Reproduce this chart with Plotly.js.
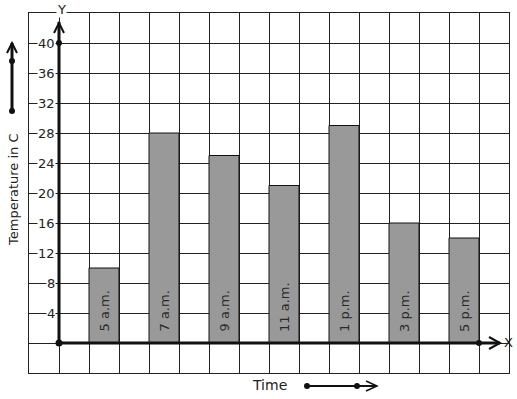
<!DOCTYPE html>
<html><head><meta charset="utf-8">
<script src="https://cdn.plot.ly/plotly-3.0.1.min.js"></script>
<style>html,body{margin:0;padding:0;background:#fff}#c{width:517px;height:399px}</style>
</head><body><div id="c"></div>
<script>
const categories = ["5 a.m.","7 a.m.","9 a.m.","11 a.m.","1 p.m.","3 p.m.","5 p.m."];
const positions = [1.5,3.5,5.5,7.5,9.5,11.5,13.5];
const temperatures = [10,28,25,21,29,16,14];
const yTickValues = [4,8,12,16,20,24,28,32,36,40];
const yTickLabels = ["4","8","12","16","20","24","28","32","36","40"];

const W=517,H=399,L=29,R=8,T=13,B=26;
const pw=W-L-R, ph=H-T-B;
const px=x=>(x-L)/pw, py=y=>(H-B-y)/ph;
const FONT="DejaVu Sans";
const ink="#111";

const shapes=[];
function pline(x0,y0,x1,y1,w){shapes.push({type:'line',xref:'paper',yref:'paper',x0:px(x0),y0:py(y0),x1:px(x1),y1:py(y1),line:{color:ink,width:w}});}
function ppath(pts,w){let d='M'+pts.map(p=>px(p[0])+','+py(p[1])).join(' L');shapes.push({type:'path',xref:'paper',yref:'paper',path:d,line:{color:ink,width:w}});}
function dot(xr,yr,x,y,r){shapes.push({type:'circle',xref:xr,yref:yr,xsizemode:'pixel',ysizemode:'pixel',xanchor:x,yanchor:y,x0:-r,x1:r,y0:-r,y1:r,fillcolor:ink,line:{color:ink,width:0}});}

// axes lines
shapes.push({type:'line',xref:'x',yref:'y',x0:0,y0:0,x1:0,y1:42.8,line:{color:ink,width:3}});
shapes.push({type:'line',xref:'x',yref:'y',x0:0,y0:0,x1:14.7,y1:0,line:{color:ink,width:3}});
ppath([[54,33],[59,23],[64,33]],2);
ppath([[489,337],[500,343],[489,349]],2);
dot('x','y',0,0,3.5);dot('x','y',0,40,3);dot('x','y',14,0,3);
// left arrow
pline(12,111,12,43,3);
ppath([[7,53],[12,43],[17,53]],2);
dot('paper','paper',px(12),py(61),3);dot('paper','paper',px(12),py(111),3);
// bottom arrow
pline(307,386,376,386,2);
ppath([[366,381],[377,386],[366,391]],1.5);
dot('paper','paper',px(307),py(386),3);dot('paper','paper',px(357),py(386),3);

const annotations=[];
yTickValues.forEach((v,i)=>annotations.push({x:0,y:v,xref:'x',yref:'y',text:yTickLabels[i],showarrow:false,xanchor:'right',yanchor:'middle',xshift:-3,bgcolor:'#fff',borderpad:0,font:{family:FONT,size:13,color:'#222'}}));
categories.forEach((c,i)=>annotations.push({x:positions[i],y:0,xref:'x',yref:'y',text:c,textangle:-90,showarrow:false,xanchor:'center',yanchor:'bottom',yshift:9,font:{family:FONT,size:13,color:'#2a2a2a'}}));
function lab(x,y,t,size,angle,bg){const a={xref:'paper',yref:'paper',x:px(x),y:py(y),text:t,showarrow:false,xanchor:'center',yanchor:'middle',font:{family:FONT,size:size,color:'#222'}};if(angle)a.textangle=angle;if(bg){a.bgcolor='#fff';a.borderpad=0;}annotations.push(a);}
lab(61,9,'Y',13,0,true);
lab(508,342,'X',13,0,false);
lab(269,385,'Time',14,0,false);
lab(13,190,'Temperature in C',13,-90,false);

const data=[{type:'bar',x:positions,y:temperatures,width:1,marker:{color:'#999999',line:{color:ink,width:1}},hoverinfo:'none'}];
const layout={width:W,height:H,margin:{l:L,r:R,t:T,b:B},paper_bgcolor:'#fff',plot_bgcolor:'#fff',showlegend:false,
 xaxis:{range:[-1,15],dtick:1,tick0:0,showgrid:true,gridcolor:'#222',gridwidth:1,zeroline:false,showticklabels:false,ticks:'',showline:true,mirror:true,linecolor:'#222',linewidth:1,fixedrange:true},
 yaxis:{range:[-4,44],dtick:4,tick0:0,showgrid:true,gridcolor:'#222',gridwidth:1,zeroline:false,showticklabels:false,ticks:'',showline:true,mirror:true,linecolor:'#222',linewidth:1,fixedrange:true},
 shapes:shapes,annotations:annotations,font:{family:FONT}};
Plotly.newPlot('c',data,layout,{displayModeBar:false,staticPlot:true});
</script></body></html>
